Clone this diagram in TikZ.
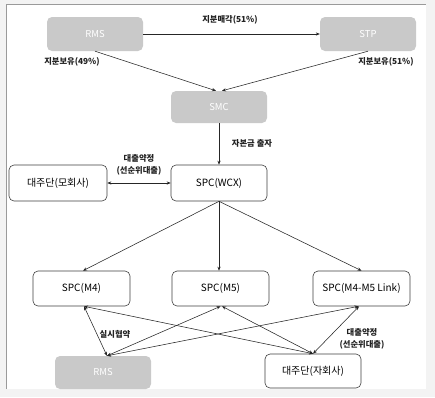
\documentclass[tikz,border=0pt]{standalone}
\usepackage{fontspec}
\setmainfont{Noto Sans CJK KR}
\usetikzlibrary{arrows.meta,calc}
\definecolor{boxgray}{HTML}{C9C9C9}
\definecolor{bggray}{HTML}{F3F3F3}
\definecolor{framegray}{HTML}{9A9A9A}
\definecolor{txt}{HTML}{222222}
\tikzset{
  graybox/.style={rectangle, rounded corners=5pt, fill=boxgray, draw=none, text=white, minimum width=96pt, minimum height=34pt, font=\fontsize{9.5}{11}\selectfont, inner sep=0pt},
  whitebox/.style={rectangle, rounded corners=5pt, fill=white, draw=black!75, line width=0.6pt, text=black, minimum width=97pt, minimum height=35pt, font=\fontsize{10}{12}\selectfont, inner sep=0pt},
  lbl/.style={font=\fontsize{8.3}{12.5}\selectfont\bfseries, text=txt, align=center, inner sep=0pt},
  arr/.style={-{Stealth[length=4pt,width=3.2pt]}, line width=0.55pt, draw=black!85},
  darr/.style={{Stealth[length=4pt,width=3.2pt]}-{Stealth[length=4pt,width=3.2pt]}, line width=0.55pt, draw=black!85}
}
\begin{document}
\begin{tikzpicture}[x=1pt,y=-1pt]
\useasboundingbox (0,0) rectangle (435,397);
\fill[bggray] (0,0) rectangle (435,397);
\fill[white] (6,4) rectangle (426,389);
\draw[framegray, line width=0.8pt] (6,389) -- (6,4) -- (426,4);

\node[graybox] (rms1) at (95,34) {RMS};
\node[graybox] (stp) at (368,34) {STP};
\node[graybox, minimum height=32pt] (smc) at (219,107) {SMC};
\node[whitebox, minimum width=98pt, minimum height=36pt] (mo) at (58,183) {대주단(모회사)};
\node[whitebox, minimum width=96pt, minimum height=36pt] (wcx) at (219,183) {SPC(WCX)};
\node[whitebox] (m4) at (81.5,288.5) {SPC(M4)};
\node[whitebox] (m5) at (220.5,288.5) {SPC(M5)};
\node[whitebox] (link) at (361.5,288.5) {SPC(M4-M5 Link)};
\node[graybox, minimum height=33pt] (rms2) at (103,372.5) {RMS};
\node[whitebox, minimum width=96pt, minimum height=34pt] (ja) at (313,371) {대주단(자회사)};

\draw[arr] (rms1.east) -- (stp.west);
\draw[arr] (rms1.south) -- ([xshift=-3pt]smc.north);
\draw[arr] (stp.south) -- ([xshift=3pt]smc.north);
\draw[arr] (smc.south) -- (wcx.north);
\draw[darr] (mo.east) -- (wcx.west);
\draw[arr] (wcx.south) -- ([xshift=1.5pt]m4.north);
\draw[arr] (wcx.south) -- ([xshift=-1.5pt]m5.north);
\draw[arr] (wcx.south) -- (link.north);

\draw[darr] ([xshift=2.5pt]m4.south) -- ([xshift=4pt]rms2.north);
\draw[darr] (m5.south) -- ([xshift=4pt]rms2.north);
\draw[darr] ([xshift=-3pt]link.south) -- ([xshift=4pt]rms2.north);
\draw[darr] ([xshift=2.5pt]m4.south) -- (ja.north);
\draw[darr] ([xshift=1.5pt]m5.south) -- (ja.north);
\draw[darr] ([xshift=-2.5pt]link.south) -- (ja.north);

\node[lbl] (l1) at (230,20) {지분매각(51\%)};
\node[lbl] (l2) at (72,62) {지분보유(49\%)};
\node[lbl] (l3) at (386,62) {지분보유(51\%)};
\node[lbl] (l4) at (252,143) {자본금 출자};
\node[lbl] (l5) at (139,165) {대출약정\\(선순위대출)};
\node[lbl] (l6) at (115,334) {실시협약};
\node[lbl] (l7) at (362,339) {대출약정\\(선순위대출)};
\end{tikzpicture}
\end{document}
